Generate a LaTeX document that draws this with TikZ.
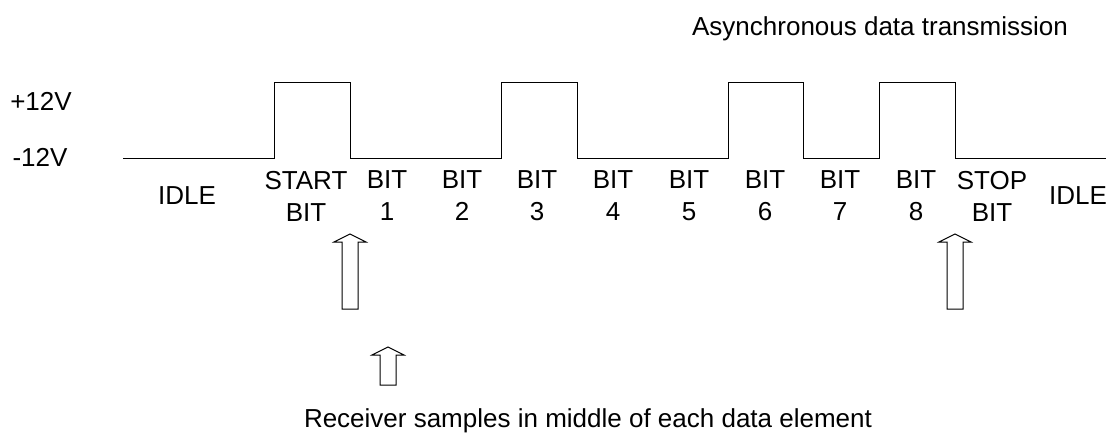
\documentclass[tikz,border=0pt]{standalone}
\usepackage{fontspec}
\setmainfont{Liberation Sans}
\begin{document}
\begin{tikzpicture}[x=1pt,y=-1pt,
  lbl/.style={font=\fontsize{26}{32}\selectfont, align=center, inner sep=0pt},
  sig/.style={line width=1pt, line join=miter},
  hollow/.style={draw, line width=1pt, fill=white, line join=miter}]
\useasboundingbox (0,0) rectangle (1112,437);
% title
\node[lbl] (title) at (880,29) {Asynchronous data transmission};
% voltage labels
\node[lbl] (vhi) at (41,101) {+12V};
\node[lbl] (vlo) at (40,157) {-12V};
% signal
\draw[sig] (123,158) -- (274,158) -- (274,82) -- (350,82) -- (350,158)
  -- (501,158) -- (501,82) -- (577,82) -- (577,158)
  -- (728,158) -- (728,82) -- (803,82) -- (803,158)
  -- (879,158) -- (879,82) -- (955,82) -- (955,158) -- (1106,158);
% bit labels
\node[lbl] (idleA) at (187,196) {IDLE};
\node[lbl] (start) at (306,196) {START\\BIT};
\node[lbl] (b1) at (387,196) {BIT\\1};
\node[lbl] (b2) at (462,196) {BIT\\2};
\node[lbl] (b3) at (537,196) {BIT\\3};
\node[lbl] (b4) at (613,196) {BIT\\4};
\node[lbl] (b5) at (689,196) {BIT\\5};
\node[lbl] (b6) at (765,196) {BIT\\6};
\node[lbl] (b7) at (840,196) {BIT\\7};
\node[lbl] (b8) at (916,196) {BIT\\8};
\node[lbl] (stop) at (992,196) {STOP\\BIT};
\node[lbl] (idleB) at (1078,196) {IDLE};
% hollow arrows
\draw[hollow] (342,309) -- (342,242) -- (334,242) -- (350,234) -- (366,242) -- (358,242) -- (358,309) -- cycle;
\draw[hollow] (947,309) -- (947,242) -- (939,242) -- (955,234) -- (971,242) -- (963,242) -- (963,309) -- cycle;
\draw[hollow] (380,385) -- (380,355) -- (372,355) -- (388,347) -- (404,355) -- (396,355) -- (396,385) -- cycle;
% bottom caption
\node[lbl] (caption) at (588,421) {Receiver samples in middle of each data element};
\end{tikzpicture}
\end{document}
